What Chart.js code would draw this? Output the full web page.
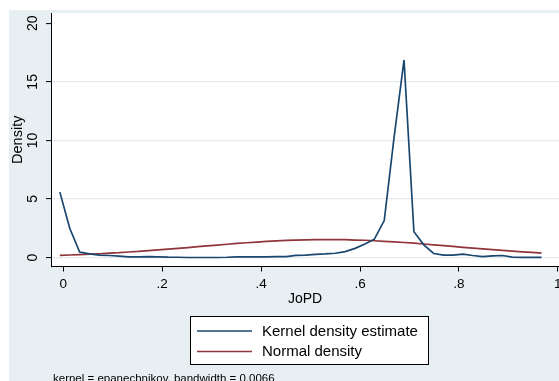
<!DOCTYPE html>
<html>
<head>
<meta charset="utf-8">
<script src="https://cdn.jsdelivr.net/npm/chart.js@4/dist/chart.umd.min.js"></script>
<style>
  html, body { margin: 0; padding: 0; background: #fff; }
  #wrap { width: 559px; height: 381px; }
</style>
</head>
<body>
<div id="wrap"><canvas id="kd" width="559" height="381"></canvas></div>
<script>
// evaluation grid (JoPD)
const xGrid = [-0.007, 0.013, 0.033, 0.053, 0.073, 0.093, 0.113, 0.132, 0.152, 0.172,
               0.192, 0.212, 0.232, 0.252, 0.272, 0.291, 0.311, 0.331, 0.351, 0.371,
               0.391, 0.411, 0.431, 0.451, 0.470, 0.490, 0.510, 0.530, 0.550, 0.570,
               0.590, 0.610, 0.629, 0.649, 0.669, 0.689, 0.709, 0.729, 0.749, 0.769,
               0.788, 0.808, 0.828, 0.848, 0.868, 0.888, 0.908, 0.928, 0.948, 0.967];

const kernelDensity = [5.58, 2.50, 0.46, 0.31, 0.20, 0.17, 0.11, 0.06, 0.06, 0.08,
                       0.06, 0.03, 0.02, 0.00, 0.00, 0.00, 0.00, 0.02, 0.06, 0.06,
                       0.06, 0.06, 0.07, 0.08, 0.18, 0.20, 0.27, 0.30, 0.36, 0.50,
                       0.78, 1.15, 1.56, 3.15, 10.30, 16.87, 2.20, 1.08, 0.34, 0.20,
                       0.20, 0.28, 0.17, 0.08, 0.14, 0.17, 0.03, 0.01, 0.01, 0.01];

const normalDensity = [0.18, 0.21, 0.24, 0.28, 0.32, 0.37, 0.41, 0.47, 0.52, 0.59,
                       0.65, 0.71, 0.78, 0.85, 0.92, 0.99, 1.06, 1.13, 1.20, 1.26,
                       1.32, 1.37, 1.42, 1.46, 1.49, 1.51, 1.52, 1.53, 1.53, 1.52,
                       1.49, 1.47, 1.43, 1.38, 1.33, 1.28, 1.22, 1.15, 1.08, 1.02,
                       0.95, 0.87, 0.80, 0.73, 0.67, 0.60, 0.54, 0.48, 0.43, 0.38];

const seriesNames = ["Kernel density estimate", "Normal density"];
const xTicks = [0, 0.2, 0.4, 0.6, 0.8, 1];
const xTickLabels = ["0", ".2", ".4", ".6", ".8", "1"];
const yTicks = [0, 5, 10, 15, 20];
const yTickLabels = ["0", "5", "10", "15", "20"];
const xTitle = "JoPD";
const yTitle = "Density";
const noteText = "kernel = epanechnikov, bandwidth = 0.0066";

const FONT = "'Liberation Sans', Arial, Helvetica, sans-serif";
const NAVY = "#1a476f";
const MAROON = "#90353b";
const REGION = "#e8eff2";
const GRID = "#e3ebee";

// stata style backgrounds: graph region + white plot region
const stataBackground = {
  id: 'stataBackground',
  beforeDraw(chart) {
    const {ctx, chartArea: {left, top, right, bottom}} = chart;
    ctx.save();
    ctx.fillStyle = "#fff";
    ctx.fillRect(0, 0, chart.width, chart.height);
    ctx.fillStyle = REGION;
    ctx.fillRect(9, 10, chart.width - 9, chart.height - 10);
    ctx.fillStyle = "#fff";
    ctx.fillRect(left, top, right - left, bottom - top);
    ctx.restore();
  }
};

// boxed legend + note under the plot
const stataLegend = {
  id: 'stataLegend',
  afterDraw(chart) {
    const ctx = chart.ctx;
    ctx.save();
    ctx.fillStyle = "#fff";
    ctx.fillRect(190, 316, 238, 48);
    ctx.strokeStyle = "#000";
    ctx.lineWidth = 1;
    ctx.strokeRect(190.5, 316.5, 238, 48);
    ctx.font = "15px " + FONT;
    ctx.textBaseline = "middle";
    chart.data.datasets.forEach((ds, i) => {
      const y = 331 + i * 20.5;
      ctx.strokeStyle = ds.borderColor;
      ctx.lineWidth = 1.6;
      ctx.beginPath();
      ctx.moveTo(197, y);
      ctx.lineTo(252, y);
      ctx.stroke();
      ctx.fillStyle = "#000";
      ctx.fillText(ds.label, 262, y + 0.5);
    });
    ctx.font = "11.5px " + FONT;
    ctx.textBaseline = "top";
    ctx.fillText(noteText, 53, 373);
    ctx.restore();
  }
};

new Chart("kd", {
  type: 'line',
  data: {
    datasets: [
      {
        label: seriesNames[0],
        data: xGrid.map((x, i) => ({x: x, y: kernelDensity[i]})),
        borderColor: NAVY,
        borderWidth: 1.7,
        pointRadius: 0,
        tension: 0,
        fill: false
      },
      {
        label: seriesNames[1],
        data: xGrid.map((x, i) => ({x: x, y: normalDensity[i]})),
        borderColor: MAROON,
        borderWidth: 1.7,
        pointRadius: 0,
        tension: 0,
        fill: false
      }
    ]
  },
  options: {
    responsive: false,
    animation: false,
    devicePixelRatio: 1,
    layout: { padding: { top: 13, left: 0, right: 0, bottom: 73.5 } },
    plugins: {
      legend: { display: false },
      tooltip: { enabled: false }
    },
    scales: {
      x: {
        type: 'linear',
        min: -0.0249,
        max: 1.0024,
        afterBuildTicks: (scale) => { scale.ticks = xTicks.map(v => ({value: v})); },
        afterFit: (scale) => { scale.height = 41; scale.paddingLeft = 0; scale.paddingRight = 0; },
        ticks: {
          callback: (v, i) => xTickLabels[i],
          color: "#000",
          font: { family: FONT, size: 13.5 },
          padding: 4.5,
          maxRotation: 0,
          autoSkip: false
        },
        grid: { drawOnChartArea: false, drawTicks: true, tickLength: 5, tickColor: "#000", tickWidth: 1 },
        border: { display: true, color: "#000", width: 1 },
        title: { display: true, text: xTitle, color: "#000", font: { family: FONT, size: 14 }, padding: 0 }
      },
      y: {
        type: 'linear',
        min: -0.77,
        max: 20.88,
        afterBuildTicks: (scale) => { scale.ticks = yTicks.map(v => ({value: v})); },
        afterFit: (scale) => { scale.width = 51; scale.paddingTop = 0; scale.paddingBottom = 0; },
        ticks: {
          callback: (v, i) => yTickLabels[i],
          color: "#000",
          font: { family: FONT, size: 14 },
          padding: 5,
          minRotation: 90,
          maxRotation: 90,
          crossAlign: 'center',
          autoSkip: false
        },
        grid: {
          color: (c) => (c.tick && c.tick.value === 20) ? 'rgba(0,0,0,0)' : GRID,
          lineWidth: 1.2,
          drawTicks: true,
          tickLength: 5,
          tickColor: "#000",
          tickWidth: 1
        },
        border: { display: true, color: "#000", width: 1 },
        title: { display: true, text: yTitle, color: "#000", font: { family: FONT, size: 14.5 }, padding: { top: 9.5, bottom: 0 } }
      }
    }
  },
  plugins: [stataBackground, stataLegend]
});
</script>
</body>
</html>
